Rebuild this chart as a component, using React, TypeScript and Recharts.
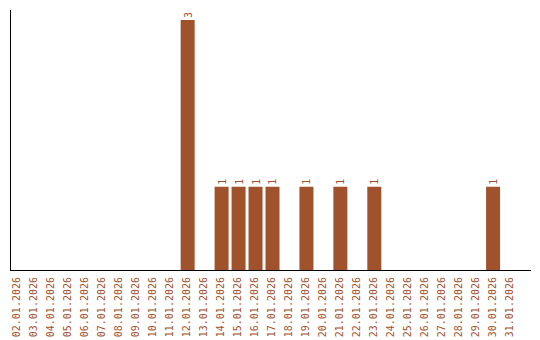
import { Bar, BarChart, LabelList, XAxis, YAxis } from 'recharts';

const DATES = [
  '02.01.2026', '03.01.2026', '04.01.2026', '05.01.2026', '06.01.2026',
  '07.01.2026', '08.01.2026', '09.01.2026', '10.01.2026', '11.01.2026',
  '12.01.2026', '13.01.2026', '14.01.2026', '15.01.2026', '16.01.2026',
  '17.01.2026', '18.01.2026', '19.01.2026', '20.01.2026', '21.01.2026',
  '22.01.2026', '23.01.2026', '24.01.2026', '25.01.2026', '26.01.2026',
  '27.01.2026', '28.01.2026', '29.01.2026', '30.01.2026', '31.01.2026',
];

const COUNTS = [
  0, 0, 0, 0, 0,
  0, 0, 0, 0, 0,
  3, 0, 1, 1, 1,
  1, 0, 1, 0, 1,
  0, 1, 0, 0, 0,
  0, 0, 0, 1, 0,
];

const BROWN = '#a0522d';
const FONT = '"DejaVu Sans Mono", monospace';

const data = DATES.map((date, i) => ({ date, count: COUNTS[i] }));

function DateTick({ x, y, payload }: any) {
  return (
    <g transform={`translate(${x},${y})`}>
      <text
        transform="rotate(-90)"
        x={-7}
        y={2}
        textAnchor="end"
        fontFamily={FONT}
        fontSize={10}
        fill={BROWN}
      >
        {payload.value}
      </text>
    </g>
  );
}

function ValueLabel({ x, y, width, value }: any) {
  if (!value) return null;
  const cx = Number(x) + Number(width) / 2;
  const top = Number(y) - 2;
  return (
    <text
      transform={`rotate(-90, ${cx}, ${top})`}
      x={cx}
      y={top + 4}
      textAnchor="start"
      fontFamily={FONT}
      fontSize={10}
      fill={BROWN}
    >
      {value}
    </text>
  );
}

export default function App() {
  return (
    <div style={{ position: 'absolute', left: 0, top: 0, background: '#fff' }}>
      <BarChart
        width={540}
        height={340}
        data={data}
        margin={{ top: 10, right: 9, bottom: 0, left: 9 }}
        barCategoryGap={0}
      >
        <XAxis
          dataKey="date"
          interval={0}
          height={70}
          tickSize={0}
          tickMargin={0}
          tickLine={false}
          axisLine={{ stroke: '#000', strokeWidth: 1, shapeRendering: 'crispEdges' }}
          padding={{ left: 0, right: 12 }}
          tick={<DateTick />}
        />
        <YAxis
          width={1}
          domain={[0, 3.12]}
          tick={false}
          tickLine={false}
          axisLine={{ stroke: '#000', strokeWidth: 1, shapeRendering: 'crispEdges' }}
        />
        <Bar dataKey="count" fill={BROWN} barSize={14} isAnimationActive={false}>
          <LabelList dataKey="count" content={<ValueLabel />} />
        </Bar>
      </BarChart>
    </div>
  );
}
